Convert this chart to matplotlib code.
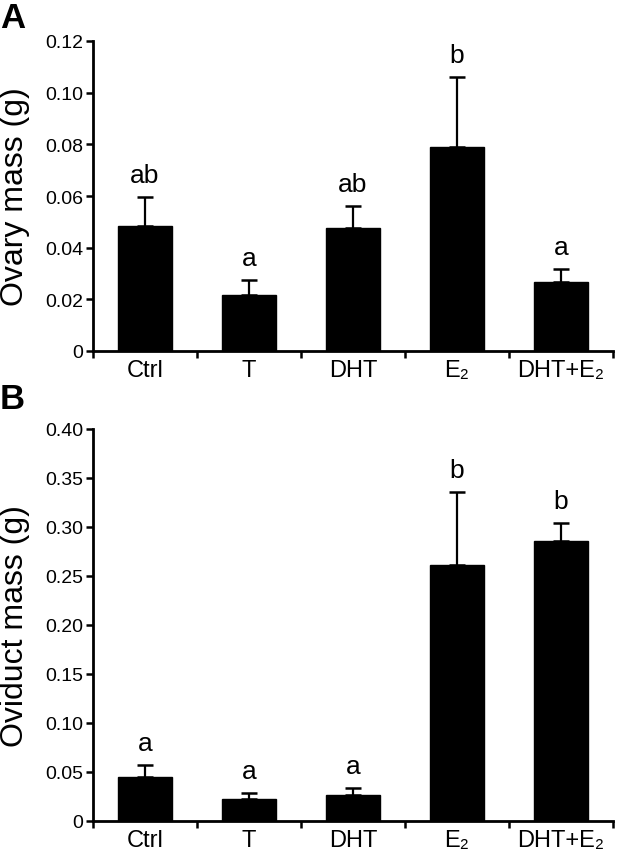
import matplotlib
matplotlib.use("Agg")
import matplotlib.pyplot as plt

plt.rcParams['font.family'] = ['Liberation Sans', 'DejaVu Sans']

categories = ["Ctrl", "T", "DHT", "E\u2082", "DHT+E\u2082"]

ovary_mean = [0.0485, 0.0218, 0.0478, 0.0790, 0.0269]
ovary_err = [0.0111, 0.0057, 0.0083, 0.0270, 0.0049]
ovary_letters = ["ab", "a", "ab", "b", "a"]
ovary_ticks = [0, 0.02, 0.04, 0.06, 0.08, 0.10, 0.12]
ovary_ticklabels = ["0", "0.02", "0.04", "0.06", "0.08", "0.10", "0.12"]

oviduct_mean = [0.0448, 0.0220, 0.0265, 0.2610, 0.2860]
oviduct_err = [0.0122, 0.0070, 0.0071, 0.0745, 0.0185]
oviduct_letters = ["a", "a", "a", "b", "b"]
oviduct_ticks = [0, 0.05, 0.10, 0.15, 0.20, 0.25, 0.30, 0.35, 0.40]
oviduct_ticklabels = ["0", "0.05", "0.10", "0.15", "0.20", "0.25", "0.30", "0.35", "0.40"]

W, H = 619, 853
fig = plt.figure(figsize=(W / 100, H / 100), dpi=100)

def px_axes(left, top, right, bottom):
    return fig.add_axes([left / W, 1 - bottom / H, (right - left) / W, (bottom - top) / H])

AX_LEFT, AX_RIGHT = 93, 613
ax1 = px_axes(AX_LEFT, 42, AX_RIGHT, 352)
ax2 = px_axes(AX_LEFT, 430, AX_RIGHT, 822)

def draw(ax, means, errs, letters, ticks, ticklabels, ylabel, ymax):
    x = list(range(len(categories)))
    ax.bar(x, means, width=0.52, color='black', edgecolor='black', zorder=2)
    ax.errorbar(x, means, yerr=[[0] * len(errs), errs], fmt='none', ecolor='black',
                elinewidth=1.6, capsize=6, capthick=1.8, zorder=1)
    for xi, m, e, lab in zip(x, means, errs, letters):
        ax.annotate(lab, (xi, m + e), xytext=(0, 7), textcoords='offset points',
                    ha='center', va='bottom', fontsize=19)
    ax.set_xlim(-0.5, len(categories) - 0.5)
    ax.set_ylim(0, ymax)
    ax.set_yticks(ticks)
    ax.set_yticklabels(ticklabels, fontsize=14)
    ax.set_xticks(x)
    ax.set_xticklabels(categories, fontsize=17)
    ax.tick_params(axis='x', length=0, pad=6)
    ax.set_xticks([i - 0.5 for i in range(len(categories) + 1)], minor=True)
    ax.tick_params(axis='x', which='minor', length=5, width=1.8, direction='out')
    ax.tick_params(axis='y', length=5, width=1.8, direction='out', pad=2)
    for s in ['top', 'right']:
        ax.spines[s].set_visible(False)
    for s in ['left', 'bottom']:
        ax.spines[s].set_linewidth(2.0)
    ax.set_ylabel(ylabel, fontsize=23)
    ax.yaxis.label.set_va('top')
    ax.yaxis.set_label_coords(-(AX_LEFT - 0.5) / (AX_RIGHT - AX_LEFT), 0.5)

draw(ax1, ovary_mean, ovary_err, ovary_letters, ovary_ticks, ovary_ticklabels, "Ovary mass (g)", 0.12)
draw(ax2, oviduct_mean, oviduct_err, oviduct_letters, oviduct_ticks, oviduct_ticklabels, "Oviduct mass (g)", 0.40)

fig.text(0.0, 1 - 2 / H, "A", fontsize=25, fontweight='bold', ha='left', va='top')
fig.text(0.0, 1 - 383 / H, "B", fontsize=25, fontweight='bold', ha='left', va='top')

fig.savefig("out.png", dpi=100)
